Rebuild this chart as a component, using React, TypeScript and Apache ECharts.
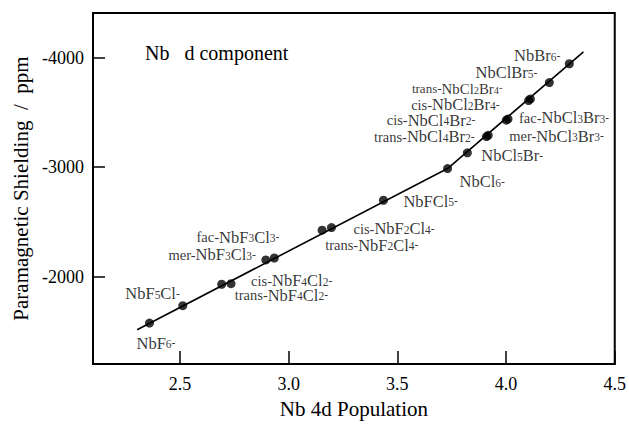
import React, { useEffect, useRef } from "react";
import * as echarts from "echarts";

// Nb 4d population vs. paramagnetic shielding for the mixed hexahalide niobates
const species: string[] = [
  "NbF6", "NbF5Cl",
  "trans-NbF4Cl2", "cis-NbF4Cl2",
  "mer-NbF3Cl3", "fac-NbF3Cl3",
  "trans-NbF2Cl4", "cis-NbF2Cl4",
  "NbFCl5", "NbCl6", "NbCl5Br",
  "trans-NbCl4Br2", "cis-NbCl4Br2",
  "mer-NbCl3Br3", "fac-NbCl3Br3",
  "cis-NbCl2Br4", "trans-NbCl2Br4",
  "NbClBr5", "NbBr6",
];
const population: number[] = [
  2.36, 2.513,
  2.692, 2.735,
  2.895, 2.934,
  3.154, 3.197,
  3.436, 3.731, 3.822,
  3.910, 3.918,
  4.001, 4.009,
  4.104, 4.112,
  4.199, 4.291,
];
const shielding: number[] = [
  -1575, -1734,
  -1930, -1935,
  -2152, -2170,
  -2424, -2448,
  -2698, -2988, -3132,
  -3280, -3292,
  -3430, -3442,
  -3610, -3624,
  -3774, -3946,
];

// correlation line drawn through the points
const fitPopulation: number[] = [2.303, 3.731, 4.356];
const fitShielding: number[] = [-1514, -2988, -4055];

const xTicks: number[] = [2.5, 3.0, 3.5, 4.0, 4.5];
const yTicks: number[] = [-4000, -3000, -2000];

// label placement around each dot: [dx, dy, align, font scale]
const labelPlacement: Record<string, [number, number, "left" | "right", number]> = {
  "NbF6": [-13, 20, "left", 1],
  "NbF5Cl": [-3, -12, "right", 1],
  "trans-NbF4Cl2": [13, 11, "left", 1],
  "cis-NbF4Cl2": [20, -3, "left", 1],
  "mer-NbF3Cl3": [-10, -5, "right", 1],
  "fac-NbF3Cl3": [5, -21, "right", 1],
  "trans-NbF2Cl4": [3, 15, "left", 1],
  "cis-NbF2Cl4": [22, 1, "left", 1],
  "NbFCl5": [20, 1, "left", 1],
  "NbCl6": [12, 13, "left", 1],
  "NbCl5Br": [14, 3, "left", 1],
  "trans-NbCl4Br2": [-12, 0, "right", 1],
  "cis-NbCl4Br2": [-13, -15, "right", 1],
  "mer-NbCl3Br3": [3, 16, "left", 1],
  "fac-NbCl3Br3": [11, -1, "left", 1],
  "cis-NbCl2Br4": [-29, 4, "right", 1],
  "trans-NbCl2Br4": [-28, -10, "right", 0.9],
  "NbClBr5": [-12, -10, "right", 1],
  "NbBr6": [-9, -8, "right", 1],
};

const SERIF = "Liberation Serif";

// turns "cis-NbF4Cl2" into rich text with a small prefix, subscript counts and a charge
function formulaRich(name: string): string {
  const m = name.match(/^(cis-|trans-|fac-|mer-)?(.*)$/);
  let out = "";
  if (m && m[1]) out += `{pre|${m[1]}}`;
  const body = m ? m[2] : name;
  const parts = body.match(/[A-Za-z]+|\d+/g) || [];
  for (const p of parts) {
    out += /\d/.test(p) ? `{sub|${p}}` : `{f|${p}}`;
  }
  out += "{sup|-}";
  return out;
}

function richStyles(k: number) {
  return {
    pre: { fontFamily: SERIF, fontSize: 14.5 * k, color: "#000", lineHeight: 14 * k, verticalAlign: "middle" },
    f: { fontFamily: SERIF, fontSize: 16.5 * k, color: "#000", lineHeight: 14 * k, verticalAlign: "middle" },
    sub: { fontFamily: SERIF, fontSize: 11.5 * k, color: "#000", lineHeight: 3 * k, verticalAlign: "bottom" },
    sup: { fontFamily: SERIF, fontSize: 11.5 * k, color: "#000", lineHeight: 7 * k, verticalAlign: "top" },
  };
}

export default function App() {
  const ref = useRef<HTMLDivElement>(null);

  useEffect(() => {
    if (!ref.current) return;
    const chart = echarts.init(ref.current, undefined, { renderer: "svg" });

    const points = species.map((name, i) => {
      const [dx, dy, align, k] = labelPlacement[name];
      return {
        value: [population[i], shielding[i]],
        label: {
          show: true,
          formatter: formulaRich(name),
          position: [4.5 + dx, 4.5 + dy],
          align,
          verticalAlign: "middle",
          rich: richStyles(k),
        },
      };
    });

    const fit = fitPopulation.map((x, i) => [x, fitShielding[i]]);

    chart.setOption({
      animation: false,
      backgroundColor: "#fff",
      textStyle: { fontFamily: SERIF },
      grid: {
        left: 93,
        right: 12,
        top: 13,
        bottom: 56,
        show: true,
        borderColor: "#000",
        borderWidth: 2,
        backgroundColor: "transparent",
      },
      graphic: [
        {
          type: "text",
          left: 145,
          top: 43,
          style: {
            text: "Nb   d component",
            fontFamily: SERIF,
            fontSize: 20,
            fill: "#000",
          },
        },
      ],
      xAxis: {
        type: "value",
        min: 2.1,
        max: 4.5,
        name: "Nb 4d Population",
        nameLocation: "middle",
        nameGap: 31,
        nameTextStyle: { fontFamily: SERIF, fontSize: 21, color: "#000" },
        axisLine: { show: true, lineStyle: { color: "#000", width: 2 } },
        axisTick: {
          show: true,
          inside: true,
          length: 13,
          customValues: xTicks,
          lineStyle: { color: "#000", width: 1.5 },
        },
        axisLabel: {
          customValues: xTicks,
          formatter: (v: number) => v.toFixed(1),
          fontFamily: SERIF,
          fontSize: 18,
          color: "#000",
          margin: 11,
          showMaxLabel: true,
        },
        splitLine: { show: false },
      },
      yAxis: {
        type: "value",
        inverse: true,
        min: -4410,
        max: -1200,
        name: "Paramagnetic Shielding  /  ppm",
        nameLocation: "middle",
        nameGap: 58,
        nameTextStyle: { fontFamily: SERIF, fontSize: 21, color: "#000" },
        axisLine: { show: true, lineStyle: { color: "#000", width: 2 } },
        axisTick: {
          show: true,
          inside: true,
          length: 12,
          customValues: yTicks,
          lineStyle: { color: "#000", width: 1.5 },
        },
        axisLabel: {
          customValues: yTicks,
          formatter: (v: number) => String(v),
          fontFamily: SERIF,
          fontSize: 18,
          color: "#000",
          margin: 9,
        },
        splitLine: { show: false },
      },
      series: [
        {
          type: "line",
          data: fit,
          symbol: "none",
          silent: true,
          lineStyle: { color: "#000", width: 1.6 },
          z: 1,
        },
        {
          type: "scatter",
          data: points,
          symbol: "circle",
          symbolSize: 9,
          silent: true,
          itemStyle: { color: "#000" },
          z: 2,
        },
      ],
    });

    return () => chart.dispose();
  }, []);

  return (
    <div
      ref={ref}
      style={{ position: "fixed", left: 0, top: 0, width: 629, height: 424, background: "#fff" }}
    />
  );
}
